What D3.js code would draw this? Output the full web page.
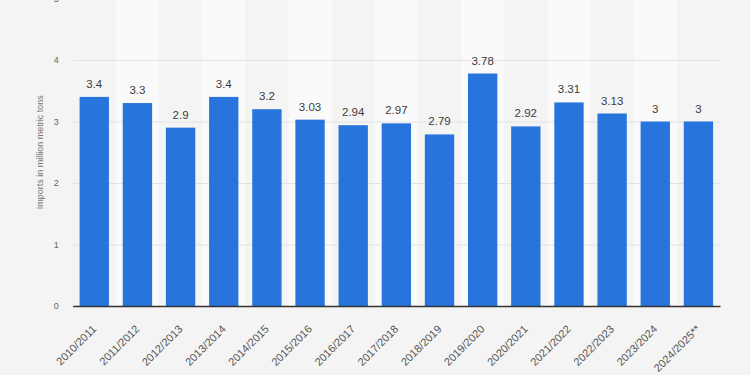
<!DOCTYPE html>
<html>
<head>
<meta charset="utf-8">
<script src="https://cdn.jsdelivr.net/npm/d3@7"></script>
<style>
  body { margin: 0; background: #f4f4f4; }
  svg { display: block; font-family: "Helvetica Neue", Arial, "Liberation Sans", sans-serif; }
</style>
</head>
<body>
<div id="chart"></div>
<script>
var width = 750, height = 375;

// data
var seasons = ['2010/2011', '2011/2012', '2012/2013', '2013/2014', '2014/2015', '2015/2016',
  '2016/2017', '2017/2018', '2018/2019', '2019/2020', '2020/2021', '2021/2022',
  '2022/2023', '2023/2024', '2024/2025**'];
var imports = [3.4, 3.3, 2.9, 3.4, 3.2, 3.03, 2.94, 2.97, 2.79, 3.78, 2.92, 3.31, 3.13, 3, 3];
var yTicks = [0, 1, 2, 3, 4, 5];
var yTitle = 'Imports in million metric tons';

var margin = { left: 72.7, right: 30, top: -1.5, bottom: 69 };

var x = d3.scaleBand()
  .domain(seasons)
  .range([margin.left, width - margin.right])
  .paddingInner(0.32)
  .paddingOuter(0.16);

var y = d3.scaleLinear()
  .domain([0, 5])
  .range([height - margin.bottom, margin.top]);

var svg = d3.select('#chart')
  .append('svg')
  .attr('width', width)
  .attr('height', height);

svg.append('rect')
  .attr('width', width).attr('height', height)
  .attr('fill', '#f4f4f4');

// alternating column stripes, every second one lighter
var step = x.step();
svg.selectAll('.stripe')
  .data(seasons.filter(function(d, i) { return i % 2 == 1; }))
  .enter()
  .append('rect')
  .attr('class', 'stripe')
  .attr('x', function(d) { return x(d) + x.bandwidth() / 2 - step / 2; })
  .attr('y', 0)
  .attr('width', step)
  .attr('height', y(0))
  .attr('fill', '#fafafa');

// gridlines + y tick labels
var yAxis = d3.axisLeft(y)
  .tickValues(yTicks)
  .tickSize(-(width - margin.right - margin.left))
  .tickPadding(14)
  .tickFormat(d3.format('d'));

var gy = svg.append('g')
  .attr('transform', 'translate(' + margin.left + ',0)')
  .call(yAxis);
gy.select('.domain').remove();
gy.selectAll('.tick line').attr('stroke', '#e2e2e2').attr('stroke-width', 1);
gy.selectAll('.tick text')
  .attr('fill', '#666')
  .style('font-size', '9px');

svg.append('text')
  .attr('transform', 'translate(43,' + y(2.5) + ') rotate(-90)')
  .attr('text-anchor', 'middle')
  .attr('fill', '#777')
  .style('font-size', '9px')
  .text(yTitle);

// bars
svg.selectAll('.bar')
  .data(imports)
  .enter()
  .append('rect')
  .attr('class', 'bar')
  .attr('x', function(d, i) { return x(seasons[i]); })
  .attr('y', function(d) { return y(d); })
  .attr('width', x.bandwidth())
  .attr('height', function(d) { return y(0) - y(d); })
  .attr('fill', '#2874dd');

// value labels
svg.selectAll('.val')
  .data(imports)
  .enter()
  .append('text')
  .attr('class', 'val')
  .attr('x', function(d, i) { return x(seasons[i]) + x.bandwidth() / 2; })
  .attr('y', function(d) { return y(d) - 9; })
  .attr('text-anchor', 'middle')
  .attr('fill', '#3c3c3c')
  .style('font-size', '11.5px')
  .text(function(d) { return d; });

// x axis
var gx = svg.append('g')
  .attr('transform', 'translate(0,' + y(0) + ')')
  .call(d3.axisBottom(x).tickSize(0).tickSizeOuter(0));
gx.select('.domain').attr('stroke', '#333').attr('stroke-width', 1.5);
gx.selectAll('.tick text')
  .attr('fill', '#555')
  .style('font-size', '11px')
  .attr('text-anchor', 'end')
  .attr('x', 0)
  .attr('y', 0)
  .attr('dy', '0.35em')
  .attr('transform', 'translate(0,21) rotate(-45)');
</script>
</body>
</html>
